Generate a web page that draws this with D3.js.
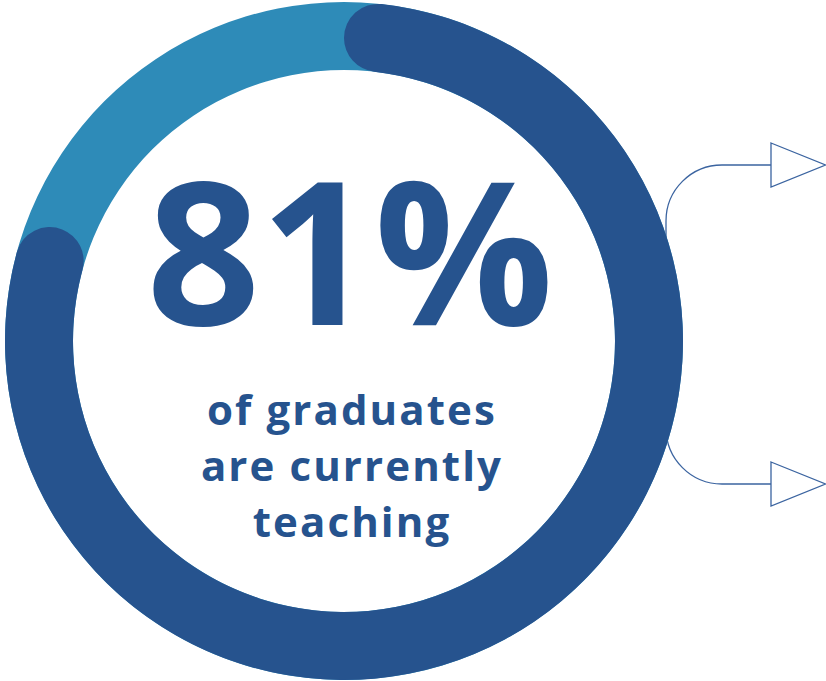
<!DOCTYPE html>
<html>
<head>
<meta charset="utf-8">
<script src="https://cdn.jsdelivr.net/npm/d3@7"></script>
<style>
  html, body { margin: 0; padding: 0; background: #fff; }
  svg { display: block; }
</style>
</head>
<body>
<svg id="chart" width="826" height="681"></svg>
<script>
// Share of graduates currently teaching (percent)
const categories = ["Currently teaching", "Not teaching"];
const values = [81, 19];
const headline = "81%";
const captionLines = ["of graduates", "are currently", "teaching"];

const dark = "#26538e";
const light = "#2e8bb8";

const svg = d3.select("#chart");
const cx = 344, cy = 341, rOuter = 339, rInner = 271;

// Bracket with two outlined arrowheads, drawn beneath the ring
const bracket = svg.append("g")
  .attr("fill", "none")
  .attr("stroke", "#3b64a0")
  .attr("stroke-width", 1.3);

const bx = 666, yTop = 165, yBot = 484, rc = 56, xArrow = 771;
const bp = d3.path();
bp.moveTo(xArrow, yTop);
bp.lineTo(bx + rc, yTop);
bp.arcTo(bx, yTop, bx, yTop + rc, rc);
bp.lineTo(bx, yBot - rc);
bp.arcTo(bx, yBot, bx + rc, yBot, rc);
bp.lineTo(xArrow, yBot);
bracket.append("path").attr("d", bp.toString());

[yTop, yBot].forEach(y => {
  bracket.append("path")
    .attr("fill", "#fff")
    .attr("d", `M${xArrow},${y - 22}L${825.5},${y}L${xArrow},${y + 22}Z`);
});

// Donut: full background track plus the rounded share arc
const g = svg.append("g").attr("transform", `translate(${cx},${cy})`);
const total = d3.sum(values);
const angle = d3.scaleLinear().domain([0, total]).range([0, 2 * Math.PI]);

const arc = d3.arc()
  .innerRadius(rInner)
  .outerRadius(rOuter);

g.append("path")
  .attr("fill", light)
  .attr("d", arc({ startAngle: 0, endAngle: 2 * Math.PI }));

g.append("path")
  .attr("fill", dark)
  .attr("d", d3.arc()
    .innerRadius(rInner)
    .outerRadius(rOuter)
    .cornerRadius((rOuter - rInner) / 2)({ startAngle: 0, endAngle: angle(values[0]) }));

// Centre labels
svg.append("text")
  .attr("x", 350)
  .attr("y", 325)
  .attr("text-anchor", "middle")
  .attr("font-family", "'Open Sans', sans-serif")
  .attr("font-weight", 700)
  .attr("font-size", 199)
  .attr("fill", dark)
  .text(headline);

svg.append("g")
  .selectAll("text")
  .data(captionLines)
  .join("text")
  .attr("x", 352)
  .attr("y", (d, i) => 425 + i * 56)
  .attr("text-anchor", "middle")
  .attr("font-family", "'Open Sans', sans-serif")
  .attr("font-weight", 700)
  .attr("font-size", 42)
  .attr("letter-spacing", 2.1)
  .attr("fill", dark)
  .text(d => d);
</script>
</body>
</html>
